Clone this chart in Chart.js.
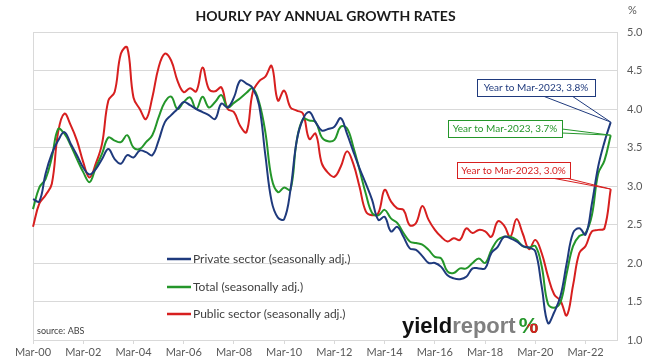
<!DOCTYPE html>
<html>
<head>
<meta charset="utf-8">
<script src="https://cdn.jsdelivr.net/npm/chart.js@4.4.0/dist/chart.umd.min.js"></script>
<style>
  html, body { margin: 0; padding: 0; background: #fff; }
  #wrap { width: 662px; height: 363px; position: relative; }
</style>
</head>
<body>
<div id="wrap"><canvas id="chart"></canvas></div>
<script>
// quarterly categories, Mar-00 .. Jun-23 (axis runs one quarter past the last point)
const quarters = [];
for (let y = 0; y <= 23; y++) {
  for (const m of ["Mar", "Jun", "Sep", "Dec"]) {
    quarters.push(m + "-" + String(y).padStart(2, "0"));
  }
}
quarters.length = 94;

const tickLabels = ["Mar-00", "Mar-02", "Mar-04", "Mar-06", "Mar-08", "Mar-10",
  "Mar-12", "Mar-14", "Mar-16", "Mar-18", "Mar-20", "Mar-22"];

const seriesNames = [
  "Private sector (seasonally adj.)",
  "Total (seasonally adj.)",
  "Public sector (seasonally adj.)",
];

const privateSector = [
  2.83, 2.80, 3.16, 3.42, 3.59, 3.70, 3.55, 3.40, 3.24, 3.15, 3.22, 3.35, 3.48, 3.35, 3.29, 3.40,
  3.37, 3.46, 3.44, 3.40, 3.59, 3.83, 3.92, 4.00, 4.09, 4.05, 4.00, 3.96, 3.92, 3.87, 4.07, 4.02,
  4.15, 4.37, 4.33, 4.27, 4.05, 3.40, 2.80, 2.59, 2.57, 2.95, 3.59, 3.87, 3.96, 3.83, 3.72, 3.74,
  3.77, 3.88, 3.68, 3.45, 3.23, 3.03, 2.82, 2.56, 2.60, 2.41, 2.47, 2.34, 2.19, 2.17, 2.09, 2.00,
  2.00, 1.95, 1.84, 1.80, 1.79, 1.82, 1.93, 1.93, 1.93, 2.13, 2.21, 2.34, 2.32, 2.28, 2.22, 2.20,
  2.15, 1.70, 1.22, 1.36, 1.57, 2.00, 2.39, 2.45, 2.37, 2.77, 3.25, 3.57, 3.83,
];

const totalAll = [
  2.70, 2.98, 3.09, 3.37, 3.74, 3.68, 3.53, 3.35, 3.18, 3.05, 3.24, 3.42, 3.63, 3.59, 3.57, 3.66,
  3.50, 3.48, 3.57, 3.66, 3.89, 4.09, 4.16, 4.00, 4.09, 4.15, 4.00, 4.16, 4.02, 4.09, 4.18, 4.02,
  4.08, 4.14, 4.21, 4.27, 4.09, 3.70, 3.10, 2.92, 2.98, 2.95, 3.59, 3.87, 3.85, 3.83, 3.63, 3.58,
  3.60, 3.77, 3.75, 3.51, 3.21, 2.90, 2.65, 2.62, 2.69, 2.58, 2.52, 2.39, 2.28, 2.26, 2.24, 2.17,
  2.08, 2.06, 1.89, 1.87, 1.93, 1.93, 2.00, 2.06, 2.00, 2.17, 2.30, 2.34, 2.34, 2.30, 2.22, 2.20,
  2.22, 1.96, 1.47, 1.42, 1.49, 1.87, 2.22, 2.35, 2.39, 2.62, 3.16, 3.33, 3.66,
];

const publicSector = [
  2.47, 2.77, 2.88, 3.03, 3.70, 3.94, 3.79, 3.59, 3.31, 3.11, 3.29, 3.55, 4.11, 4.22, 4.72, 4.80,
  4.15, 4.00, 3.87, 4.15, 4.54, 4.72, 4.63, 4.37, 4.22, 4.27, 4.23, 4.54, 4.26, 4.23, 4.28, 4.00,
  3.96, 3.78, 3.70, 4.22, 4.36, 4.42, 4.56, 4.11, 4.24, 4.02, 3.98, 3.94, 3.61, 3.68, 3.29, 3.17,
  3.12, 3.25, 3.45, 3.29, 2.99, 2.67, 2.62, 2.65, 2.95, 2.80, 2.71, 2.69, 2.49, 2.52, 2.74, 2.56,
  2.43, 2.34, 2.28, 2.32, 2.30, 2.45, 2.39, 2.43, 2.41, 2.34, 2.54, 2.49, 2.34, 2.57, 2.38, 2.18,
  2.30, 2.13, 1.83, 1.59, 1.51, 1.32, 1.71, 2.13, 2.22, 2.41, 2.43, 2.45, 2.96,
];

const calloutLabels = ["Year to Mar-2023, 3.8%", "Year to Mar-2023, 3.7%", "Year to Mar-2023, 3.0%"];

const colors = ["#1f3a7d", "#24962a", "#d71f1f"];
const FONT = "Lato, 'Liberation Sans', sans-serif";

// callout boxes: centre, size, and where the pointer leaves the box
const calloutStyle = [
  { cx: 536, cy: 87.5, w: 118, h: 17, base: [[543, 96], [572, 96]] },
  { cx: 505, cy: 128.5, w: 114, h: 17, base: [[562, 129], [562, 133]] },
  { cx: 513.5, cy: 170, w: 113, h: 16, base: [[552, 178], [566, 178]] },
];

const decorations = {
  id: "decorations",
  beforeDatasetsDraw(chart) {
    const { ctx, chartArea: a } = chart;
    ctx.save();
    ctx.strokeStyle = "#d9d9d9";
    ctx.lineWidth = 1;
    ctx.beginPath();
    ctx.moveTo(a.left + 0.5, a.bottom);
    ctx.lineTo(a.left + 0.5, a.top + 0.5);
    ctx.lineTo(a.right, a.top + 0.5);
    ctx.stroke();
    ctx.restore();
  },
  afterDraw(chart) {
    const { ctx } = chart;
    const x = chart.scales.x;
    const y = chart.scales.y;
    ctx.save();

    // title
    ctx.fillStyle = "#1a1a1a";
    ctx.font = "bold 14px " + FONT;
    ctx.textAlign = "center";
    ctx.textBaseline = "middle";
    ctx.fillText("HOURLY PAY ANNUAL GROWTH RATES", 325.5, 16);

    // unit
    ctx.fillStyle = "#595959";
    ctx.font = "11px " + FONT;
    ctx.textAlign = "left";
    ctx.fillText("%", 628, 10);

    // legend
    ctx.font = "12px " + FONT;
    const legendY = [259, 287, 314];
    seriesNames.forEach((name, i) => {
      ctx.strokeStyle = colors[i];
      ctx.lineWidth = 2.5;
      ctx.beginPath();
      ctx.moveTo(167, legendY[i]);
      ctx.lineTo(191, legendY[i]);
      ctx.stroke();
      ctx.fillStyle = "#404040";
      ctx.fillText(name, 193, legendY[i] + 0.5);
    });

    // source
    ctx.font = "9px " + FONT;
    ctx.fillStyle = "#404040";
    ctx.fillText("source: ABS", 37, 331);

    // logo
    ctx.textBaseline = "alphabetic";
    ctx.font = "bold 22px 'Liberation Sans', sans-serif";
    ctx.fillStyle = "#111";
    ctx.fillText("yield", 402, 333);
    const wy = ctx.measureText("yield").width;
    ctx.fillStyle = "#808080";
    ctx.fillText("report", 402 + wy, 333);
    const wr = ctx.measureText("report").width;
    const px = 402 + wy + wr + 3;
    const wp = ctx.measureText("%").width;
    ctx.fillStyle = "#24962a";
    ctx.fillText("%", px, 333);
    ctx.save();
    ctx.beginPath();
    ctx.rect(px + wp * 0.45, 324, wp, 14);
    ctx.clip();
    ctx.fillStyle = "#d71f1f";
    ctx.fillText("%", px, 333);
    ctx.restore();

    // callouts, pointing at the last observation of each series
    ctx.font = "10px " + FONT;
    ctx.textAlign = "center";
    ctx.textBaseline = "middle";
    chart.data.datasets.forEach((ds, i) => {
      const last = ds.data.length - 1;
      const tx = x.getPixelForValue(last);
      const ty = y.getPixelForValue(ds.data[last]);
      const s = calloutStyle[i];
      ctx.strokeStyle = colors[i];
      ctx.lineWidth = 1;
      ctx.beginPath();
      ctx.moveTo(s.base[0][0], s.base[0][1]);
      ctx.lineTo(tx, ty);
      ctx.lineTo(s.base[1][0], s.base[1][1]);
      ctx.stroke();
      const bx = Math.round(s.cx - s.w / 2) + 0.5;
      const by = Math.round(s.cy - s.h / 2) + 0.5;
      ctx.fillStyle = "#fff";
      ctx.fillRect(bx, by, s.w, s.h);
      ctx.strokeRect(bx, by, s.w, s.h);
      ctx.fillStyle = colors[i];
      ctx.fillText(calloutLabels[i], s.cx, s.cy + 0.5);
    });

    ctx.restore();
  },
};

Chart.defaults.font.family = FONT;
Chart.defaults.font.size = 11;
Chart.defaults.color = "#595959";

const lineSet = (label, data, color) => ({
  label,
  data,
  borderColor: color,
  backgroundColor: color,
  borderWidth: 2,
  pointRadius: 0,
  tension: 0.4,
  fill: false,
});

new Chart(document.getElementById("chart"), {
  type: "line",
  data: {
    labels: quarters,
    datasets: [
      lineSet(seriesNames[0], privateSector, colors[0]),
      lineSet(seriesNames[1], totalAll, colors[1]),
      lineSet(seriesNames[2], publicSector, colors[2]),
    ],
  },
  options: {
    responsive: true,
    maintainAspectRatio: false,
    animation: false,
    layout: { padding: { left: 33, top: 32, right: 0, bottom: 0 } },
    plugins: {
      legend: { display: false },
      tooltip: { enabled: false },
    },
    scales: {
      x: {
        afterFit(scale) { scale.height = 23; },
        grid: {
          drawOnChartArea: false,
          drawTicks: true,
          tickLength: 4,
          color: (c) => (c.index % 8 === 0 ? "#d9d9d9" : "rgba(0,0,0,0)"),
        },
        border: { display: true, color: "#d9d9d9" },
        ticks: {
          autoSkip: false,
          maxRotation: 0,
          padding: 2,
          callback: (v, i) => (i % 8 === 0 ? tickLabels[i / 8] : ""),
        },
      },
      y: {
        position: "right",
        min: 1,
        max: 5,
        afterFit(scale) { scale.width = 45; },
        grid: { color: "#d9d9d9", drawTicks: false },
        border: { display: true, color: "#d9d9d9" },
        ticks: {
          stepSize: 0.5,
          padding: 10,
          callback: (v) => v.toFixed(1),
        },
      },
    },
  },
  plugins: [decorations],
});
</script>
</body>
</html>
